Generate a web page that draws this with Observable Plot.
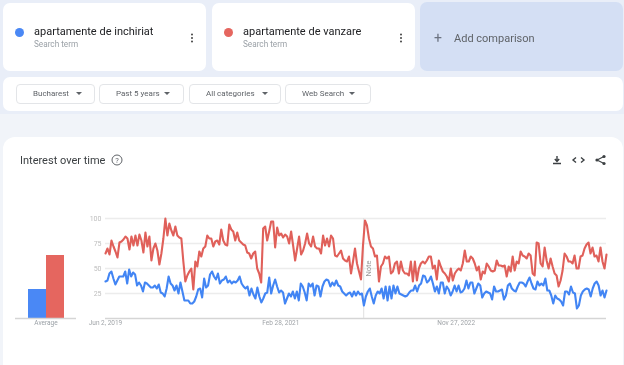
<!DOCTYPE html>
<html><head><meta charset="utf-8">
<script src="https://cdn.jsdelivr.net/npm/d3@7"></script>
<script src="https://cdn.jsdelivr.net/npm/@observablehq/plot@0.6"></script>
<style>
html{background:linear-gradient(#e9eef8 0,#e9eef8 114px,#f1f4f9 114px,#f1f4f9 100%);overflow:hidden}
body{margin:0;padding:0;width:624px;height:365px;overflow:hidden;font-family:Roboto,sans-serif;filter:blur(.3px)}
.box{position:absolute;background:#fff;box-sizing:border-box}
.t{position:absolute;white-space:nowrap;line-height:1}
.dot{position:absolute;width:9px;height:9px;border-radius:50%}
.kebab{position:absolute;width:2px;height:2px;background:#444;border-radius:50%;box-shadow:0 3.5px 0 #444,0 -3.5px 0 #444}
.chip{position:absolute;top:84px;height:20px;box-sizing:border-box;border:1px solid #e3e5e8;border-radius:4px;background:#fff;font-size:8px;color:#5f6368;line-height:18px}
.chip span{position:absolute;left:16px}
.chip i{position:absolute;top:7px;width:0;height:0;border-left:3px solid transparent;border-right:3px solid transparent;border-top:3.5px solid #5f6368}
#avg,#main{position:absolute;top:205px}
svg{display:block}
</style></head><body>
<div class="box" style="left:3px;top:3px;width:203px;height:68px;border-radius:7px"></div>
<div class="box" style="left:212px;top:3px;width:203px;height:68px;border-radius:7px"></div>
<div class="box" style="left:420px;top:2px;width:203px;height:69px;border-radius:7px;background:#d4dff4"></div>
<div class="dot" style="left:15px;top:28px;background:#4a88f5"></div>
<div class="dot" style="left:224px;top:28px;background:#e5665f"></div>
<div class="t" style="left:34px;top:26px;font-size:11px;color:#202124">apartamente de inchiriat</div>
<div class="t" style="left:243px;top:26px;font-size:11px;color:#202124">apartamente de vanzare</div>
<div class="t" style="left:34px;top:40px;font-size:8.2px;color:#9aa0a6">Search term</div>
<div class="t" style="left:243px;top:40px;font-size:8.2px;color:#9aa0a6">Search term</div>
<div class="kebab" style="left:191px;top:36.5px"></div>
<div class="kebab" style="left:400px;top:36.5px"></div>
<div class="t" style="left:434px;top:31px;font-size:14px;color:#6b7280">+</div>
<div class="t" style="left:454px;top:33px;font-size:11px;color:#5f6368">Add comparison</div>
<div class="box" style="left:3px;top:77px;width:620px;height:34px;border-radius:7px"></div>
<div class="chip" style="left:16px;width:79px"><span>Bucharest</span><i style="left:59px"></i></div>
<div class="chip" style="left:99px;width:85px"><span>Past 5 years</span><i style="left:64px"></i></div>
<div class="chip" style="left:189px;width:92px"><span>All categories</span><i style="left:72px"></i></div>
<div class="chip" style="left:285px;width:86px"><span>Web Search</span><i style="left:63px"></i></div>
<div class="box" style="left:3px;top:137px;width:620px;height:240px;border-radius:12px"></div>
<div class="t" style="left:20px;top:155px;font-size:11px;color:#3c4043">Interest over time</div>
<svg style="position:absolute;left:0;top:0;overflow:visible" width="624" height="365" fill="none">
<circle cx="117" cy="160" r="5" stroke="#5f6368" stroke-width="1"/>
<text x="117" y="163" font-size="7.5" text-anchor="middle" fill="#5f6368" font-family="Roboto">?</text>
<path d="M557 156v5M554.8 159l2.2 2.4 2.2-2.4M553 163.5h8" stroke="#3c4043" stroke-width="1.4"/>
<path d="M576 157.5l-3 2.5 3 2.5M581 157.5l3 2.5-3 2.5" stroke="#3c4043" stroke-width="1.4"/>
<path d="M604 156.5l-7 3.5 7 3.5" stroke="#3c4043" stroke-width="1.1"/>
<circle cx="604" cy="156.5" r="1.6" fill="#3c4043"/><circle cx="597" cy="160" r="1.6" fill="#3c4043"/><circle cx="604" cy="163.5" r="1.6" fill="#3c4043"/>
</svg>
<div id="avg" style="left:0"></div>
<div id="main" style="left:70px"></div>
<script>
const terms = ["apartamente de inchiriat", "apartamente de vanzare"];
const averages = [29, 63];
const colors = ["#4a88f5", "#e5665f"];
const lineColors = ["#4285f4", "#e0605a"];
const yTicks = [25, 50, 75, 100];
const dateTicks = ["2019-06-02", "2021-02-28", "2022-11-27"];
const dateLabels = ["Jun 2, 2019", "Feb 28, 2021", "Nov 27, 2022"];
const noteDate = "2021-12-26";
const startDate = "2019-06-02";
const endDate = "2024-05-26";

const red = [65,70,64,78,72,67,61,76,77,79,82,80,69,82,73,83,73,84,78,66,86,72,82,58,70,75,68,54,65,80,100,83,95,88,83,92,83,81,80,57,37,43,47,50,29,57,52,67,62,70,72,83,80,80,72,77,78,74,89,78,74,73,94,89,87,78,86,78,76,74,73,66,65,60,65,67,50,45,36,
 90,92,78,87,97,97,71,91,83,85,81,84,82,75,87,73,58,70,82,64,68,75,85,75,72,82,72,70,70,65,83,73,80,72,83,80,63,62,65,68,60,58,57,62,45,57,70,55,47,39,73,98,93,80,72,70,62,63,37,52,55,62,60,62,45,47,55,57,45,57,48,45,45,43,57,37,57,38,50,55,57,55,58,62,
 62,50,53,39,58,52,47,45,42,37,50,38,45,48,50,48,55,68,57,57,62,60,55,48,52,39,47,45,55,52,48,47,48,58,53,53,52,53,42,52,47,62,48,57,55,67,63,62,60,65,63,45,43,76,75,55,52,71,58,50,60,52,45,43,32,38,48,65,62,57,57,55,63,50,50,62,63,70,74,76,65,71,62,63,57,71,57,50,64];
const blue = [37,38,45,47,40,34,38,42,42,42,47,35,49,42,46,44,33,36,33,27,36,35,33,31,31,33,30,34,26,25,22,30,42,35,33,28,33,25,36,27,18,18,18,15,15,17,22,29,30,21,40,31,33,44,47,42,39,45,35,38,39,42,36,38,35,37,36,38,42,35,32,30,32,23,30,24,20,31,22,16,20,
 25,26,41,25,33,39,32,26,28,26,15,20,25,22,27,20,27,18,35,32,26,18,35,32,35,23,33,32,22,32,37,39,38,32,36,33,38,33,32,27,25,23,25,26,22,27,23,27,24,25,13,22,27,30,22,15,23,27,25,30,20,32,18,32,20,33,25,32,25,24,23,22,23,26,28,28,33,27,33,35,43,42,36,38,42,
 35,27,32,25,36,36,25,32,29,23,27,33,27,33,26,27,30,38,30,36,36,25,30,35,33,21,25,27,26,25,19,32,27,27,28,29,19,23,33,35,30,28,27,32,36,36,35,32,37,41,35,30,29,37,33,35,33,40,28,28,23,15,23,20,19,17,13,27,27,24,32,26,25,10,13,23,27,29,30,29,22,30,35,37,33,23,28,21,28];

const start = new Date(startDate), end = new Date(endDate);
const series = (vals, term) => vals.map((v, i) => ({
  date: new Date(+start + (end - start) * i / (vals.length - 1)), value: v, term}));
const rows = [...series(blue, terms[0]), ...series(red, terms[1])];
const bars = terms.map((t, i) => ({term: t, value: averages[i]}));
const font = "Roboto, sans-serif";

document.getElementById("avg").append(Plot.plot({
  width: 90, height: 130, marginLeft: 27, marginRight: 26, marginTop: 13, marginBottom: 17,
  style: {background: "transparent", fontFamily: font, overflow: "visible"},
  x: {domain: terms, padding: 0, axis: null},
  y: {domain: [0, 100], axis: null},
  color: {domain: terms, range: colors},
  marks: [
    Plot.barY(bars, {x: "term", y: "value", fill: "term"}),
    Plot.ruleY([0], {stroke: "#d5d5d5", strokeWidth: 1.5, insetLeft: -12, insetRight: -12}),
    Plot.text(["Average"], {frameAnchor: "bottom", dy: 6, fill: "#9aa0a6", fontSize: 6.5})
  ]
}));

document.getElementById("main").append(Plot.plot({
  width: 554, height: 130, marginLeft: 35, marginRight: 18, marginTop: 13, marginBottom: 17,
  style: {background: "transparent", fontFamily: font, overflow: "visible"},
  x: {type: "utc", domain: [start, end]},
  y: {domain: [0, 100]},
  color: {domain: terms, range: lineColors},
  marks: [
    Plot.ruleY(yTicks, {stroke: "#ececec", strokeWidth: 1.5}),
    Plot.ruleY([0], {stroke: "#d5d5d5", strokeWidth: 1.5}),
    Plot.ruleX([new Date(noteDate)], {stroke: "#e0e0e0", y1: 0, y2: 100}),
    Plot.axisY({ticks: yTicks, tickSize: 0, tickPadding: 4, fontSize: 7, color: "#bdbdbd", label: null}),
    Plot.axisX({ticks: dateTicks.map(d => new Date(d)), tickSize: 0, tickPadding: 2, fontSize: 6.5, color: "#a0a4a8", label: null,
      tickFormat: d => dateLabels[dateTicks.indexOf(d.toISOString().slice(0, 10))]}),
    Plot.line(rows, {x: "date", y: "value", stroke: "term", z: "term", strokeWidth: 2.1, curve: "linear"}),
    Plot.text(["Note"], {x: () => new Date(noteDate), y: () => 50, rotate: -90, dx: 5, fontSize: 7.5, fill: "#9a9a9a"})
  ]
}));
</script>
</body></html>
